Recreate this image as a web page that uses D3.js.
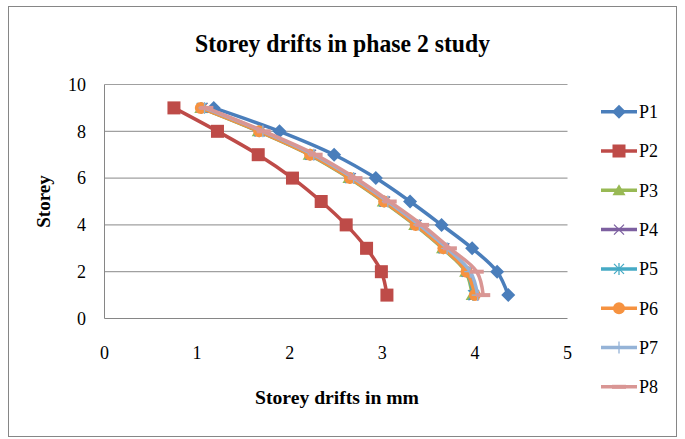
<!DOCTYPE html>
<html>
<head>
<meta charset="utf-8">
<script src="https://cdn.jsdelivr.net/npm/d3@7"></script>
<style>
  body { margin: 0; background: #fff; }
  text { font-family: "Liberation Serif", "Times New Roman", serif; fill: #000; }
</style>
</head>
<body>
<svg id="chart" width="685" height="439"></svg>
<script>
// storey numbers (y axis)
var storeys = [1, 2, 3, 4, 5, 6, 7, 8, 9];

// drift values in mm, storey 1 .. 9
var p1 = [4.36, 4.24, 3.97, 3.64, 3.30, 2.93, 2.48, 1.89, 1.18];
var p2 = [3.05, 2.99, 2.83, 2.61, 2.34, 2.03, 1.66, 1.22, 0.75];
var p3 = [3.97, 3.90, 3.65, 3.35, 3.01, 2.64, 2.21, 1.66, 1.04];
var p4 = [3.99, 3.92, 3.67, 3.37, 3.03, 2.66, 2.23, 1.68, 1.06];
var p5 = [3.98, 3.91, 3.66, 3.36, 3.02, 2.65, 2.22, 1.67, 1.05];
var p6 = [4.00, 3.91, 3.66, 3.36, 3.02, 2.65, 2.22, 1.67, 1.04];
var p7 = [4.03, 3.95, 3.70, 3.40, 3.06, 2.69, 2.26, 1.71, 1.08];
var p8 = [4.09, 4.02, 3.73, 3.43, 3.08, 2.71, 2.28, 1.72, 1.10];

var seriesNames = ["P1", "P2", "P3", "P4", "P5", "P6", "P7", "P8"];
var seriesValues = [p1, p2, p3, p4, p5, p6, p7, p8];
var colors = ["#4A7EBB", "#BE4B48", "#98B954", "#7D60A0", "#46AAC5", "#F69240", "#95B3D7", "#D99694"];
var markers = ["diamond", "square", "triangle", "x", "star", "circle", "plus", "dash"];

var xTicks = [0, 1, 2, 3, 4, 5];
var yTicks = [0, 2, 4, 6, 8, 10];

var svg = d3.select("#chart");

// outer chart border
svg.append("rect")
	.attr("x", 8.5).attr("y", 6.5)
	.attr("width", 668).attr("height", 430)
	.attr("fill", "#fff")
	.attr("stroke", "#868686");

var plot = { left: 104.5, right: 567.5, top: 84.5, bottom: 318.5 };

var x = d3.scaleLinear().domain([0, 5]).range([plot.left, plot.right]);
var y = d3.scaleLinear().domain([0, 10]).range([plot.bottom, plot.top]);

// gridlines
svg.append("g")
	.selectAll("line")
	.data(yTicks.filter(d => d > 0))
	.enter()
	.append("line")
	.attr("x1", plot.left).attr("x2", plot.right)
	.attr("y1", d => y(d)).attr("y2", d => y(d))
	.attr("stroke", "#a0a0a0")
	.attr("stroke-width", 1.2);

// axes lines
svg.append("line")
	.attr("x1", plot.left).attr("x2", plot.left)
	.attr("y1", plot.top).attr("y2", plot.bottom)
	.attr("stroke", "#868686");
svg.append("line")
	.attr("x1", plot.left).attr("x2", plot.right)
	.attr("y1", plot.bottom).attr("y2", plot.bottom)
	.attr("stroke", "#868686");

// tick labels
svg.append("g")
	.selectAll("text")
	.data(yTicks)
	.enter()
	.append("text")
	.attr("x", 86)
	.attr("y", d => y(d))
	.attr("dy", "0.35em")
	.attr("text-anchor", "end")
	.attr("font-size", 18)
	.text(d => d);

svg.append("g")
	.selectAll("text")
	.data(xTicks)
	.enter()
	.append("text")
	.attr("x", d => x(d))
	.attr("y", 353)
	.attr("dy", "0.35em")
	.attr("text-anchor", "middle")
	.attr("font-size", 18)
	.text(d => d);

// titles
svg.append("text")
	.attr("x", 342.5).attr("y", 43)
	.attr("dy", "0.35em")
	.attr("text-anchor", "middle")
	.attr("font-size", 25)
	.attr("font-weight", "bold")
	.attr("textLength", 295)
	.attr("lengthAdjust", "spacingAndGlyphs")
	.text("Storey drifts in phase 2 study");

svg.append("text")
	.attr("x", 337).attr("y", 397)
	.attr("dy", "0.35em")
	.attr("text-anchor", "middle")
	.attr("font-size", 19)
	.attr("font-weight", "bold")
	.attr("textLength", 164)
	.attr("lengthAdjust", "spacingAndGlyphs")
	.text("Storey drifts in mm");

svg.append("text")
	.attr("transform", "translate(43," + ((plot.top + plot.bottom) / 2) + ") rotate(-90)")
	.attr("dy", "0.35em")
	.attr("text-anchor", "middle")
	.attr("font-size", 19)
	.attr("font-weight", "bold")
	.text("Storey");

// marker drawing
function drawMarker(g, type, color) {
	if (type === "diamond") {
		g.append("path").attr("d", "M0,-7L7,0L0,7L-7,0Z").attr("fill", color);
	} else if (type === "square") {
		g.append("rect").attr("x", -6.5).attr("y", -6.5).attr("width", 13).attr("height", 13).attr("fill", color);
	} else if (type === "triangle") {
		g.append("path").attr("d", "M0,-6L6.5,5L-6.5,5Z").attr("fill", color);
	} else if (type === "x") {
		g.append("path").attr("d", "M-5,-5L5,5M-5,5L5,-5").attr("stroke", color).attr("stroke-width", 1.3);
	} else if (type === "star") {
		g.append("path").attr("d", "M-5,-5L5,5M-5,5L5,-5M0,-6L0,6").attr("stroke", color).attr("stroke-width", 1.3);
	} else if (type === "circle") {
		g.append("circle").attr("r", 6).attr("fill", color);
	} else if (type === "plus") {
		g.append("path").attr("d", "M-6,0L6,0M0,-6L0,6").attr("stroke", color).attr("stroke-width", 1.3);
	} else if (type === "dash") {
		g.append("rect").attr("x", -7).attr("y", -2).attr("width", 14).attr("height", 4).attr("fill", color);
	}
}

var line = d3.line()
	.x(d => x(d.v))
	.y(d => y(d.s))
	.curve(d3.curveCatmullRom.alpha(0.5));

seriesValues.forEach(function(vals, i) {
	var pts = vals.map((v, j) => ({ v: v, s: storeys[j] }));
	var g = svg.append("g");
	g.append("path")
		.datum(pts)
		.attr("d", line)
		.attr("fill", "none")
		.attr("stroke", colors[i])
		.attr("stroke-width", 3.5)
		.attr("stroke-linejoin", "round");
	g.selectAll(".m")
		.data(pts)
		.enter()
		.append("g")
		.attr("transform", d => `translate(${x(d.v)}, ${y(d.s)})`)
		.each(function() { drawMarker(d3.select(this), markers[i], colors[i]); });
});

// legend
var legend = svg.append("g");
seriesNames.forEach(function(name, i) {
	var ly = 111.7 + i * 39.3;
	var row = legend.append("g").attr("transform", `translate(0, ${ly})`);
	row.append("line")
		.attr("x1", 601).attr("x2", 637)
		.attr("stroke", colors[i])
		.attr("stroke-width", 3.5);
	var m = row.append("g").attr("transform", "translate(619,0)");
	drawMarker(m, markers[i], colors[i]);
	row.append("text")
		.attr("x", 639)
		.attr("dy", "0.35em")
		.attr("font-size", 18)
		.text(name);
});
</script>
</body>
</html>
